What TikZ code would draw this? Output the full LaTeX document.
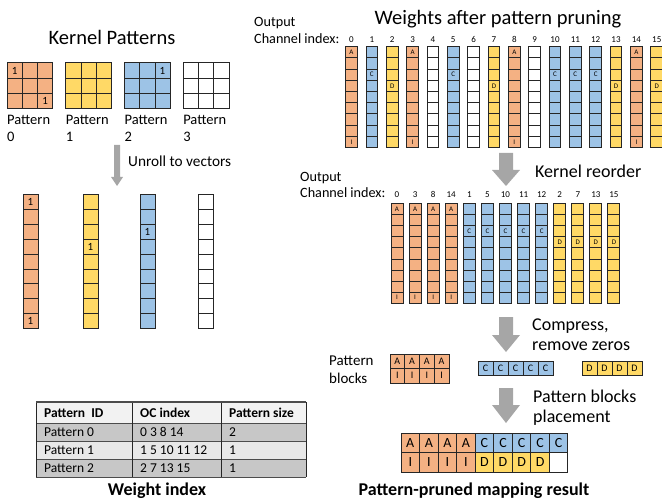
\documentclass[tikz,border=0pt]{standalone}
\usepackage{fontspec}
\setmainfont{Carlito}

% gray block arrow: x, top, head start, tip, shaft half width, head half width
\newcommand{\grayarrow}[6]{%
  \fill[arrow_gray] ({#1-#5},#2) -- ({#1+#5},#2) -- ({#1+#5},#3) -- ({#1+#6},#3)
    -- (#1,#4) -- ({#1-#6},#3) -- ({#1-#5},#3) -- cycle;}
\newcommand{\fsz}[1]{\fontsize{#1}{#1}\selectfont}

\begin{document}
\begin{tikzpicture}[x=1pt,y=-1pt,
    cellbox/.style={draw=black!85,line width=1pt},
    txt/.style={inner sep=0pt,anchor=base},
    txtl/.style={inner sep=0pt,anchor=base west}]
    \definecolor{pat_orange}{HTML}{F4B183}
    \definecolor{pat_yellow}{HTML}{FFD966}
    \definecolor{pat_blue}{HTML}{9DC3E6}
    \definecolor{arrow_gray}{HTML}{A6A6A6}
    \useasboundingbox (0,0) rectangle (662,500);
    %\draw[help lines,step=50] (0,0) grid (662,500);

    % kernel patterns
    \node[txt,font=\fsz{20.5}] (kernel_title) at (112,45) {Kernel Patterns};
    \foreach \c [count=\p from 0] in {pat_orange,pat_yellow,pat_blue,white} {
        \foreach \r in {0,1,2}
            \foreach \k in {0,1,2}
                \draw[cellbox,fill=\c] ({7+58.7*\p+15.3*\k},{63+15.3*\r}) rectangle ++(15.3,15.3);
        \node[txtl,font=\fsz{14.5}] (pat_label\p) at ({7+58.7*\p},125) {Pattern};
        \node[txtl,font=\fsz{14.5}] (pat_num\p) at ({7+58.7*\p},142) {\p};
    }
    \node[font=\fsz{11}] (one_a) at (14.6,70.6) {1};
    \node[font=\fsz{11}] (one_b) at (45.2,101.2) {1};
    \node[font=\fsz{11}] (one_c) at (162.3,70.6) {1};

    \grayarrow{117}{145}{177}{186}{3}{6}
    \node[txtl,font=\fsz{15.3}] (unroll) at (128,167) {Unroll to vectors};

    % unrolled vectors
    \foreach \c/\x in {pat_orange/23,pat_yellow/83,pat_blue/140,white/198}
        \foreach \r in {0,...,8}
            \draw[cellbox,fill=\c] (\x,{195+14.8*\r}) rectangle ++(15,14.8);
    \node[font=\fsz{11}] (vone_a) at (30.5,202.4) {1};
    \node[font=\fsz{11}] (vone_b) at (30.5,320.8) {1};
    \node[font=\fsz{11}] (vone_c) at (90.5,246.8) {1};
    \node[font=\fsz{11}] (vone_d) at (147.5,232) {1};

    % weights after pruning
    \node[txt,font=\fsz{20.5}] (weights_title) at (498,25) {Weights after pattern pruning};
    \node[txtl,font=\fsz{14.2}] (out_a) at (254,27) {Output};
    \node[txtl,font=\fsz{14.2}] (chan_a) at (254,44) {Channel index:};
    \foreach \c [count=\i from 0] in {pat_orange,pat_blue,pat_yellow,pat_orange,white,pat_blue,white,pat_yellow,
                                     pat_orange,white,pat_blue,pat_blue,pat_blue,pat_yellow,pat_orange,pat_yellow} {
        \foreach \r in {0,...,8}
            \draw[cellbox,fill=\c] ({345.7+20.35*\i},{46.7+11.2*\r}) rectangle ++(11.7,11.2);
        \node[txt,font=\fsz{9}] (oc_a\i) at ({351.5+20.35*\i},43) {\i};
    }
    \foreach \i in {0,3,8,14} {
        \node[font=\fsz{7}] at ({351.5+20.35*\i},52.3) {A};
        \node[font=\fsz{7}] at ({351.5+20.35*\i},142) {I};
    }
    \foreach \i in {1,5,10,11,12}
        \node[font=\fsz{7}] at ({351.5+20.35*\i},74.7) {C};
    \foreach \i in {2,7,13,15}
        \node[font=\fsz{7}] at ({351.5+20.35*\i},85.9) {D};

    \grayarrow{506}{153}{170}{186}{7}{14}
    \node[txtl,font=\fsz{18}] (reorder) at (535,178) {Kernel reorder};

    % reordered kernels
    \node[txtl,font=\fsz{14.2}] (out_b) at (300,182) {Output};
    \node[txtl,font=\fsz{14.2}] (chan_b) at (300,198) {Channel index:};
    \foreach \oc/\c [count=\j from 0] in {0/pat_orange,3/pat_orange,8/pat_orange,14/pat_orange,
            1/pat_blue,5/pat_blue,10/pat_blue,11/pat_blue,12/pat_blue,
            2/pat_yellow,7/pat_yellow,13/pat_yellow,15/pat_yellow} {
        \foreach \r in {0,...,8}
            \draw[cellbox,fill=\c] ({391+18.08*\j},{204+11*\r}) rectangle ++(12,11);
        \node[txt,font=\fsz{9}] (oc_b\j) at ({397+18.08*\j},198) {\oc};
    }
    \foreach \j in {0,...,3} {
        \node[font=\fsz{7}] at ({397+18.08*\j},209.5) {A};
        \node[font=\fsz{7}] at ({397+18.08*\j},297.5) {I};
    }
    \foreach \j in {4,...,8}
        \node[font=\fsz{7}] at ({397+18.08*\j},231.5) {C};
    \foreach \j in {9,...,12}
        \node[font=\fsz{7}] at ({397+18.08*\j},242.5) {D};

    \grayarrow{506}{317}{335}{352}{7}{14}
    \node[txtl,font=\fsz{18}] (compress) at (532,330) {Compress,};
    \node[txtl,font=\fsz{18}] (zeros) at (532,350) {remove zeros};

    % pattern blocks
    \node[txtl,font=\fsz{15}] (blk_a) at (329,365) {Pattern};
    \node[txtl,font=\fsz{15}] (blk_b) at (329,383) {blocks};
    \foreach \k in {0,...,3} {
        \draw[cellbox,fill=pat_orange] ({390+14.75*\k},354) rectangle ++(14.75,14.5)
            node[midway,font=\fsz{10}] {A};
        \draw[cellbox,fill=pat_orange] ({390+14.75*\k},368.5) rectangle ++(14.75,14.5)
            node[midway,font=\fsz{10}] {I};
        \draw[cellbox,fill=pat_yellow] ({582+15*\k},361) rectangle ++(15,14)
            node[midway,font=\fsz{10}] {D};
    }
    \foreach \k in {0,...,4}
        \draw[cellbox,fill=pat_blue] ({478+15*\k},361) rectangle ++(15,14)
            node[midway,font=\fsz{10}] {C};

    \grayarrow{506}{388}{405}{423}{7}{14}
    \node[txtl,font=\fsz{18}] (place_a) at (533,402) {Pattern blocks};
    \node[txtl,font=\fsz{18}] (place_b) at (533,422) {placement};

    % mapping result
    \foreach \c/\t [count=\k from 0] in {pat_orange/A,pat_orange/A,pat_orange/A,pat_orange/A,
            pat_blue/C,pat_blue/C,pat_blue/C,pat_blue/C,pat_blue/C}
        \draw[cellbox,fill=\c] ({401+18.55*\k},433) rectangle ++(18.55,19.5)
            node[midway,font=\fsz{14}] {\t};
    \foreach \c/\t [count=\k from 0] in {pat_orange/I,pat_orange/I,pat_orange/I,pat_orange/I,
            pat_yellow/D,pat_yellow/D,pat_yellow/D,pat_yellow/D,white/{}}
        \draw[cellbox,fill=\c] ({401+18.55*\k},452.5) rectangle ++(18.55,19.5)
            node[midway,font=\fsz{14}] {\t};
    \node[txt,font=\fsz{18}\bfseries] (result_cap) at (474,495) {Pattern-pruned mapping result};

    % weight index table
    \fill[black!5] (36,402) rectangle (306,423);
    \fill[black!22] (36,423) rectangle (306,441);
    \fill[black!9] (36,441) rectangle (306,459);
    \fill[black!22] (36,459) rectangle (306,477);
    \foreach \y in {423,441,459,477}
        \draw[black!70,line width=0.8pt] (36,\y) -- (306,\y);
    \foreach \x in {36,132,221,306}
        \draw[black!85,line width=0.8pt] (\x,402) -- (\x,477);
    \draw[black!70,line width=1.6pt] (36,402) -- (306,402);
    \foreach \t/\x in {{Pattern\ \ ID}/44,{OC index}/140,{Pattern size}/229}
        \node[txtl,font=\fsz{13.5}\bfseries] at (\x,417) {\t};
    \foreach \a/\b/\c/\y in {{Pattern 0}/{0 3 8 14}/2/436.5,{Pattern 1}/{1 5 10 11 12}/1/454.5,
            {Pattern 2}/{2 7 13 15}/1/472.5} {
        \node[txtl,font=\fsz{13.5}] at (44,\y) {\a};
        \node[txtl,font=\fsz{13.5}] at (140,\y) {\b};
        \node[txtl,font=\fsz{13.5}] at (229,\y) {\c};
    }
    \node[txt,font=\fsz{18}\bfseries] (index_cap) at (157,495) {Weight index};
\end{tikzpicture}
\end{document}
